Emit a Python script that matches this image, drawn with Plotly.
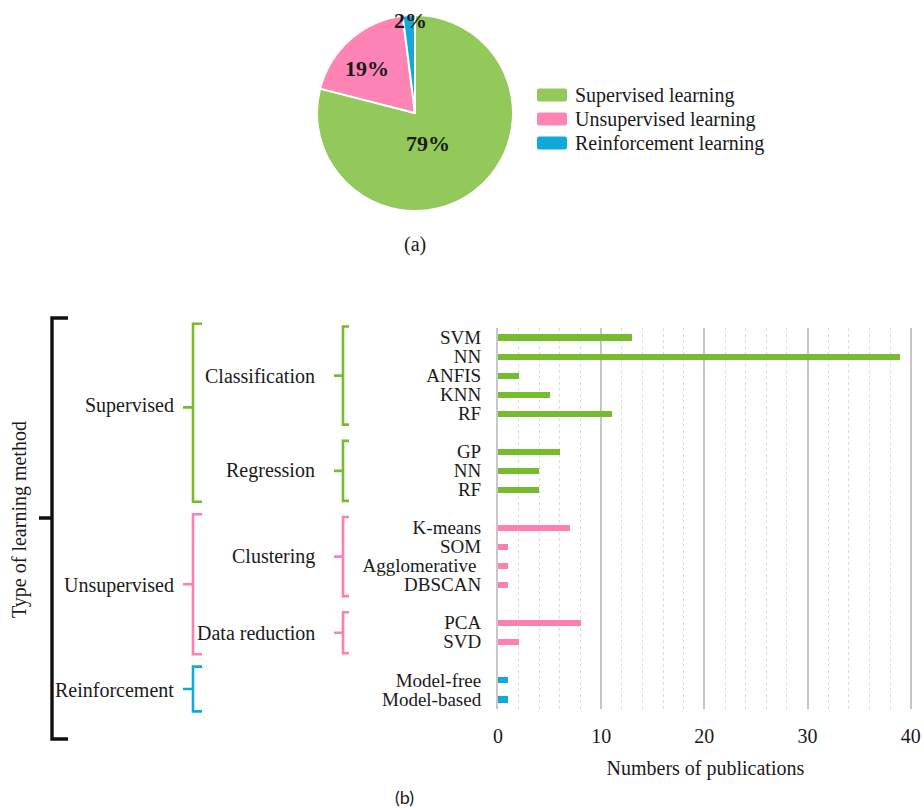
import plotly.graph_objects as go

W, H = 924, 808
SERIF = "Liberation Serif"
FS = 20
TICK_FS = 19

# ---- (a) share of each learning type -------------------------------------
pie_labels = ["Supervised learning", "Unsupervised learning", "Reinforcement learning"]
pie_values = [79, 19, 2]
pie_colors = ["#92c95a", "#fd84b4", "#10a9d8"]

# ---- (b) publications per method ------------------------------------------
learning_types = ["Supervised", "Unsupervised", "Reinforcement"]
type_colors = ["#76bc2e", "#ff7fb2", "#10a9d8"]

classification_methods = ["SVM", "NN", "ANFIS", "KNN", "RF"]
classification_counts = [13, 39, 2, 5, 11]
regression_methods = ["GP", "NN", "RF"]
regression_counts = [6, 4, 4]
clustering_methods = ["K-means", "SOM", "Agglomerative\u00a0", "DBSCAN"]
clustering_counts = [7, 1, 1, 1]
reduction_methods = ["PCA", "SVD"]
reduction_counts = [8, 2]
reinforcement_methods = ["Model-free", "Model-based"]
reinforcement_counts = [1, 1]

x_ticks = [0, 10, 20, 30, 40]

tasks_by_type = [
    [("Classification", classification_methods, classification_counts),
     ("Regression", regression_methods, regression_counts)],
    [("Clustering", clustering_methods, clustering_counts),
     ("Data reduction", reduction_methods, reduction_counts)],
    [(None, reinforcement_methods, reinforcement_counts)],
]

# lay the methods out in rows, one empty row between task groups
slot = 0
type_rows = []      # per learning type: list of task entries (name, rows, methods, counts)
for tasks in tasks_by_type:
    entries = []
    for task_name, methods, counts in tasks:
        rows = list(range(slot, slot + len(methods)))
        entries.append((task_name, rows, methods, counts))
        slot += len(methods) + 1
    type_rows.append(entries)
n_rows = slot - 1


# pixel helpers (paper coordinates, no margins)
def px(x):
    return x / W


def py(y):
    return 1 - y / H


X_MAX = 40.2                      # a little headroom so the 40 grid line is kept
PLOT_L, PLOT_T, PLOT_B = 498, 327.5, 708.5
PLOT_R = PLOT_L + 10.318 * X_MAX
row_h = (PLOT_B - PLOT_T) / n_rows


def row_y(r):
    return PLOT_T + (r + 0.5) * row_h


fig = go.Figure()

fig.add_trace(go.Pie(
    labels=pie_labels, values=pie_values,
    marker=dict(colors=pie_colors, line=dict(color="white", width=2)),
    sort=False, direction="clockwise", rotation=0,
    domain=dict(x=[px(317), px(513)], y=[py(211), py(15)]),
    textinfo="none", showlegend=False,
))

tick_vals, tick_text = [], []
for t_idx, entries in enumerate(type_rows):
    ys, xs = [], []
    for task_name, rows, methods, counts in entries:
        ys += rows
        xs += counts
        tick_vals += rows
        tick_text += methods
    fig.add_trace(go.Bar(
        x=xs, y=ys, orientation="h", width=0.32,
        marker=dict(color=type_colors[t_idx], line=dict(width=0)),
        name=learning_types[t_idx], showlegend=False,
        xaxis="x", yaxis="y",
    ))

shapes, annotations = [], []


def text(x, y, s, xanchor="center", size=FS, family=SERIF, **kw):
    annotations.append(dict(x=px(x), y=py(y), xref="paper", yref="paper", text=s,
                            showarrow=False, xanchor=xanchor, yanchor="middle",
                            font=dict(family=family, size=size, color="#1a1a1a", **kw)))


# percentage labels on the pie
pie_label_pos = [(428, 143), (367, 69), (410, 20)]
for (lx, ly), v in zip(pie_label_pos, pie_values):
    text(lx, ly, f"{v}%", size=22, weight="bold")

# legend for the pie
for i, (lab, col) in enumerate(zip(pie_labels, pie_colors)):
    yc = 95 + i * 24
    x0, x1, y0, y1, r = 537, 567, yc - 6.5, yc + 6.5, 2
    path = (f"M{px(x0 + r)},{py(y0)} L{px(x1 - r)},{py(y0)} Q{px(x1)},{py(y0)} {px(x1)},{py(y0 + r)} "
            f"L{px(x1)},{py(y1 - r)} Q{px(x1)},{py(y1)} {px(x1 - r)},{py(y1)} "
            f"L{px(x0 + r)},{py(y1)} Q{px(x0)},{py(y1)} {px(x0)},{py(y1 - r)} "
            f"L{px(x0)},{py(y0 + r)} Q{px(x0)},{py(y0)} {px(x0 + r)},{py(y0)} Z")
    shapes.append(dict(type="path", xref="paper", yref="paper", path=path,
                       fillcolor=col, line=dict(width=0)))
    text(573, yc, lab, xanchor="left")


def bracket(x_v, x_tick, x_nub, top, bottom, color, width, frac=0.5):
    mid = top + (bottom - top) * frac
    path = (f"M{px(x_tick)},{py(top)} L{px(x_v)},{py(top)} L{px(x_v)},{py(bottom)} "
            f"L{px(x_tick)},{py(bottom)} M{px(x_v)},{py(mid)} L{px(x_nub)},{py(mid)}")
    shapes.append(dict(type="path", xref="paper", yref="paper", path=path,
                       line=dict(color=color, width=width)))
    return mid


all_first, all_last = None, None
for t_idx, entries in enumerate(type_rows):
    col = type_colors[t_idx]
    first = entries[0][1][0]
    last = entries[-1][1][-1]
    all_first = first if all_first is None else all_first
    all_last = last
    mid = bracket(193, 202, 183, row_y(first) - 0.7 * row_h, row_y(last) + 0.65 * row_h, col, 2.6,
                  frac=0.47 if t_idx == 0 else 0.5)
    text(176, mid - 2 if t_idx == 0 else mid + 1, learning_types[t_idx], xanchor="right")
    for task_name, rows, methods, counts in entries:
        if task_name is None:
            continue
        mid3 = bracket(343, 349, 334, row_y(rows[0]) - 0.55 * row_h,
                       row_y(rows[-1]) + 0.6 * row_h, col, 2.6)
        text(317, mid3, task_name, xanchor="right")

mid1 = bracket(52, 68, 39, row_y(all_first) - 1.0 * row_h, row_y(all_last) + 2.1 * row_h,
               "#111", 3.4, frac=0.475)
annotations.append(dict(x=px(20), y=py(mid1 + 2), xref="paper", yref="paper",
                        text="Type of learning method", textangle=-90, showarrow=False,
                        xanchor="center", yanchor="middle",
                        font=dict(family=SERIF, size=FS, color="#1a1a1a")))

text(415, 245, "(a)")
text(404, 797, "(b)", family="Lato", size=18)

fig.update_layout(
    width=W, height=H,
    margin=dict(l=0, r=0, t=0, b=0, autoexpand=False),
    paper_bgcolor="white", plot_bgcolor="white",
    bargap=0,
    shapes=shapes, annotations=annotations,
    xaxis=dict(
        domain=[px(PLOT_L), px(PLOT_R)], range=[0, X_MAX], anchor="y", automargin=False,
        tickvals=x_ticks, ticks="", ticklabelstandoff=13,
        tickfont=dict(family=SERIF, size=FS, color="#1a1a1a"),
        showgrid=True, gridcolor="#c6c6c6", gridwidth=1.5,
        minor=dict(dtick=2, showgrid=True, gridcolor="#dadada", griddash="dot", gridwidth=1),
        zeroline=False, showline=False,
        title=dict(text="Numbers of publications", standoff=15,
                   font=dict(family=SERIF, size=FS, color="#1a1a1a")),
    ),
    yaxis=dict(
        domain=[py(PLOT_B), py(PLOT_T)], range=[n_rows - 0.5, -0.5], anchor="x", automargin=False,
        tickvals=tick_vals, ticktext=tick_text, ticks="", ticklabelstandoff=11,
        tickfont=dict(family=SERIF, size=TICK_FS, color="#1a1a1a"),
        showgrid=False, zeroline=False,
        showline=True, linecolor="#c8c8c8", linewidth=2,
    ),
)

fig.write_html("out.html")
